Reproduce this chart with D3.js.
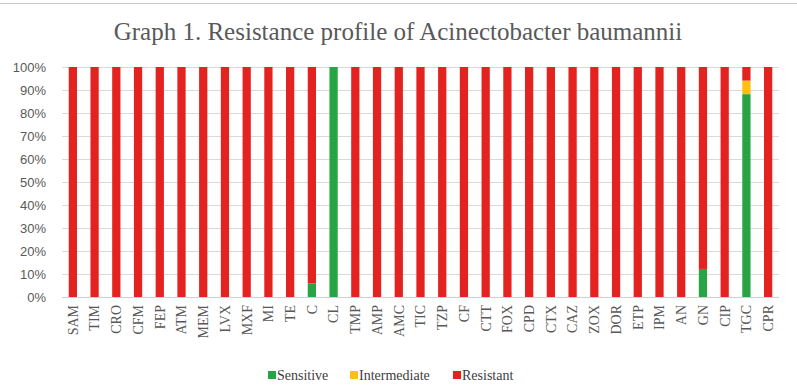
<!DOCTYPE html>
<html>
<head>
<meta charset="utf-8">
<script src="https://cdn.jsdelivr.net/npm/d3@7"></script>
<style>
  body { margin: 0; background: #fff; }
  svg { display: block; }
</style>
</head>
<body>
<script>
'use strict';

// antibiotics on the x axis
const drugs = ["SAM", "TIM", "CRO", "CFM", "FEP", "ATM", "MEM", "LVX", "MXF", "MI", "TE", "C", "CL",
  "TMP", "AMP", "AMC", "TIC", "TZP", "CF", "CTT", "FOX", "CPD", "CTX", "CAZ", "ZOX", "DOR", "ETP",
  "IPM", "AN", "GN", "CIP", "TGC", "CPR"];

// percentages
const sensitive = [0, 0, 0, 0, 0, 0, 0, 0, 0, 0, 0, 5.9, 100,
  0, 0, 0, 0, 0, 0, 0, 0, 0, 0, 0, 0, 0, 0,
  0, 0, 12.2, 0, 88.2, 0];
const intermediate = [0, 0, 0, 0, 0, 0, 0, 0, 0, 0, 0, 0, 0,
  0, 0, 0, 0, 0, 0, 0, 0, 0, 0, 0, 0, 0, 0,
  0, 0, 0, 0, 5.9, 0];
const resistant = [100, 100, 100, 100, 100, 100, 100, 100, 100, 100, 100, 94.1, 0,
  100, 100, 100, 100, 100, 100, 100, 100, 100, 100, 100, 100, 100, 100,
  100, 100, 87.8, 100, 5.9, 100];

const seriesNames = ["Sensitive", "Intermediate", "Resistant"];
const yTicks = [0, 10, 20, 30, 40, 50, 60, 70, 80, 90, 100];

const colors = { Sensitive: "#27a545", Intermediate: "#fdbf12", Resistant: "#e42320" };
const serif = "'Liberation Serif', 'Times New Roman', serif";

const width = 797, height = 391;
const svg = d3.select("body").append("svg")
  .attr("width", width)
  .attr("height", height);

// thin frame line at the top
svg.append("line")
  .attr("x1", 0).attr("x2", width)
  .attr("y1", 3.5).attr("y2", 3.5)
  .attr("stroke", "#c8c8c8");

svg.append("text")
  .attr("x", 398)
  .attr("y", 40)
  .attr("text-anchor", "middle")
  .style("font-family", serif)
  .style("font-size", "25px")
  .style("fill", "#595959")
  .text("Graph 1. Resistance profile of Acinectobacter baumannii");

const margin = { left: 62, right: 779, top: 67, bottom: 297 };

const x = d3.scaleBand()
  .domain(drugs)
  .range([margin.left, margin.right])
  .paddingInner(0.62)
  .paddingOuter(0.31);

const y = d3.scaleLinear()
  .domain([0, 100])
  .range([margin.bottom, margin.top]);

// gridlines
svg.append("g")
  .selectAll("line")
  .data(yTicks.filter(d => d > 0))
  .enter()
  .append("line")
  .attr("x1", margin.left)
  .attr("x2", margin.right)
  .attr("y1", d => Math.round(y(d)) + 0.5)
  .attr("y2", d => Math.round(y(d)) + 0.5)
  .attr("stroke", "#d9d9d9")
  .attr("stroke-width", 1);

// y axis labels
const yAxis = d3.axisLeft(y)
  .tickValues(yTicks)
  .tickSize(0)
  .tickPadding(16)
  .tickFormat(d => d + "%");
const yg = svg.append("g")
  .attr("transform", `translate(${margin.left},0)`)
  .call(yAxis);
yg.select(".domain").remove();
yg.selectAll("text")
  .style("font-family", "'Liberation Sans', Arial, sans-serif")
  .style("font-size", "13px")
  .style("fill", "#595959");

// stacked bars
const rows = drugs.map((d, i) => ({
  drug: d,
  Sensitive: sensitive[i],
  Intermediate: intermediate[i],
  Resistant: resistant[i]
}));
const stacked = d3.stack().keys(seriesNames)(rows);

svg.append("g")
  .selectAll("g")
  .data(stacked)
  .enter()
  .append("g")
  .attr("fill", s => colors[s.key])
  .selectAll("rect")
  .data(s => s)
  .enter()
  .append("rect")
  .attr("x", d => x(d.data.drug))
  .attr("y", d => y(d[1]))
  .attr("width", x.bandwidth())
  .attr("height", d => y(d[0]) - y(d[1]));

// x axis
const xAxis = d3.axisBottom(x).tickSize(0).tickPadding(0);
const xg = svg.append("g")
  .attr("transform", `translate(0,${margin.bottom})`)
  .call(xAxis);
xg.select(".domain")
  .attr("stroke", "#d0d0d0")
  .attr("d", `M${margin.left},0.5H${margin.right}`);
xg.selectAll("text")
  .attr("transform", "rotate(-90)")
  .attr("x", -8)
  .attr("y", 0)
  .attr("dy", "0.35em")
  .attr("text-anchor", "end")
  .style("font-family", serif)
  .style("font-size", "14px")
  .style("fill", "#595959");

// legend
const legendX = [268, 350, 453];
const legend = svg.append("g")
  .selectAll("g")
  .data(seriesNames)
  .enter()
  .append("g")
  .attr("transform", (d, i) => `translate(${legendX[i]},371)`);
legend.append("rect")
  .attr("width", 8)
  .attr("height", 8)
  .attr("fill", d => colors[d]);
legend.append("text")
  .attr("x", 9)
  .attr("y", 8.5)
  .style("font-family", serif)
  .style("font-size", "14px")
  .style("fill", "#404040")
  .text(d => d);
</script>
</body>
</html>
